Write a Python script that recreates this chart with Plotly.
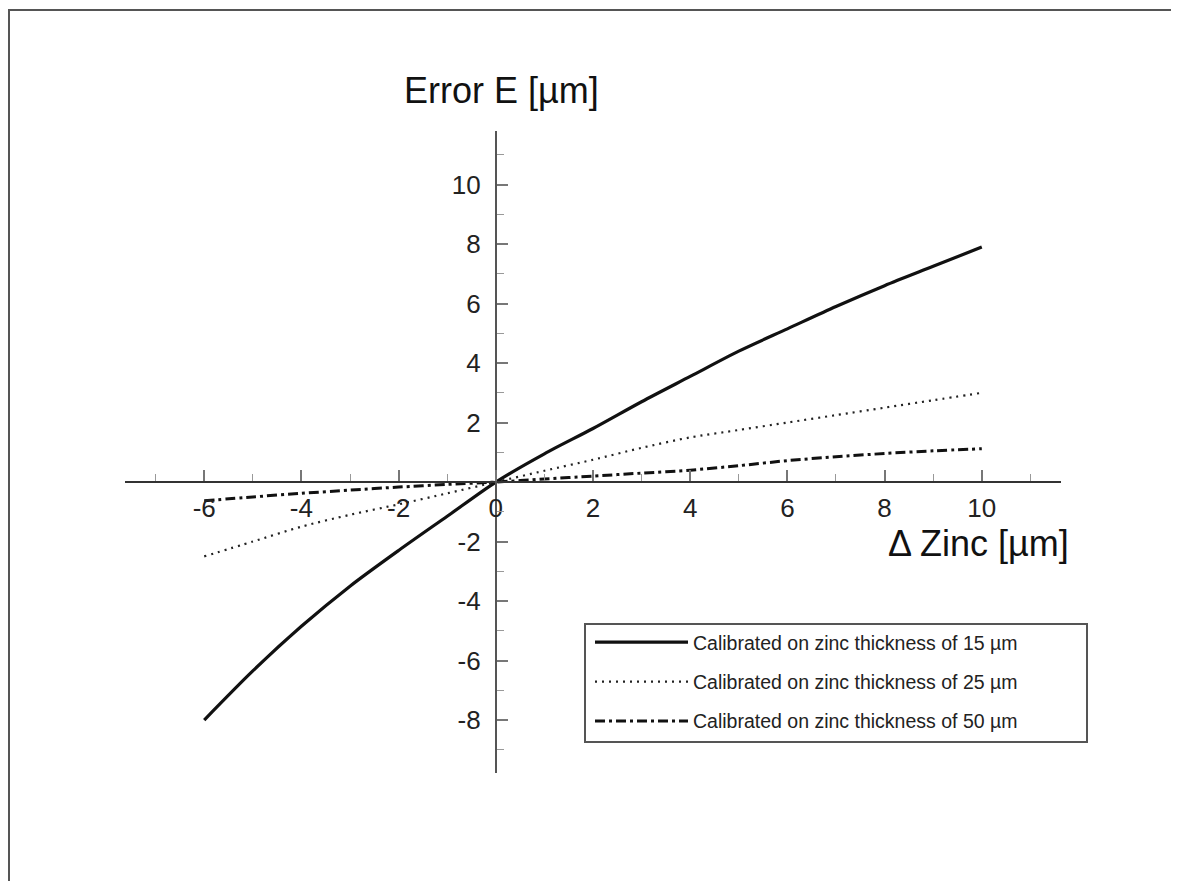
import plotly.graph_objects as go

# ---- data ----
delta_zinc = [-6, -5, -4, -3, -2, -1, 0, 1, 2, 3, 4, 5, 6, 7, 8, 9, 10]
err_15 = [-8.0, -6.35, -4.85, -3.5, -2.3, -1.15, 0, 0.95, 1.8, 2.7, 3.55, 4.4, 5.15, 5.9, 6.6, 7.25, 7.9]
err_25 = [-2.5, -2.0, -1.5, -1.1, -0.75, -0.38, 0, 0.38, 0.75, 1.15, 1.5, 1.75, 2.0, 2.25, 2.5, 2.75, 3.0]
err_50 = [-0.63, -0.5, -0.38, -0.27, -0.17, -0.08, 0, 0.1, 0.2, 0.3, 0.4, 0.55, 0.72, 0.85, 0.96, 1.05, 1.12]

series_names = [
    "Calibrated on zinc thickness of 15 µm",
    "Calibrated on zinc thickness of 25 µm",
    "Calibrated on zinc thickness of 50 µm",
]
x_major = [-6, -4, -2, 0, 2, 4, 6, 8, 10]
x_minor = [-7, -5, -3, -1, 1, 3, 5, 7, 9, 11]
y_major = [-8, -6, -4, -2, 2, 4, 6, 8, 10]
y_minor = [-9, -7, -5, -3, -1, 1, 3, 5, 7, 9, 11]

X_RANGE = [-7.63, 11.63]
Y_RANGE = [-9.78, 11.8]

OFF = 8  # page body margin
W, H = 1179 - OFF, 881 - OFF
# plot area in page pixels: x 125..1061, y 131..773
PL, PR, PT, PB = 125, 1061, 131, 773
ML, MT = PL - OFF, PT - OFF
MR, MB = W - (PR - OFF), H - (PB - OFF)
PW = PR - PL
PH = PB - PT


def px(xp):
    return (xp - PL) / PW


def py(yp):
    return (PB - yp) / PH


FONT = "Liberation Sans, Arial, sans-serif"

fig = go.Figure()
styles = [
    dict(color="#111111", width=3.2, dash="solid"),
    dict(color="#222222", width=2.2, dash="2px,5px"),
    dict(color="#111111", width=3, dash="10px,4px,3px,4px"),
]
for i, (name, ys) in enumerate(zip(series_names, [err_15, err_25, err_50])):
    fig.add_trace(go.Scatter(
        x=delta_zinc, y=ys, mode="lines", name=name,
        line=dict(shape="spline", smoothing=0.8, **styles[i]),
        legendgroup=f"g{i}",
    ))

x0_pos = (0 - Y_RANGE[0]) / (Y_RANGE[1] - Y_RANGE[0])
y0_pos = (0 - X_RANGE[0]) / (X_RANGE[1] - X_RANGE[0])

fig.update_layout(
    width=W, height=H,
    margin=dict(l=ML, r=MR, t=MT, b=MB),
    paper_bgcolor="white", plot_bgcolor="white",
    font=dict(family=FONT, color="#222222"),
    xaxis=dict(
        range=X_RANGE, anchor="free", position=x0_pos,
        showgrid=False, zeroline=False,
        showline=True, linecolor="#333333", linewidth=2,
        tickmode="array", tickvals=x_major, ticktext=[str(v) for v in x_major],
        ticks="inside", ticklen=11, tickwidth=1.5, tickcolor="#777777",
        minor=dict(tickmode="array", tickvals=x_minor, ticks="inside", ticklen=7,
                   tickwidth=1, tickcolor="#999999"),
        tickfont=dict(size=26, color="#222222"),
        ticklabelstandoff=3,
    ),
    yaxis=dict(
        range=Y_RANGE, anchor="free", position=y0_pos,
        showgrid=False, zeroline=False,
        showline=True, linecolor="#555555", linewidth=2,
        tickmode="array", tickvals=y_major, ticktext=[str(v) for v in y_major],
        ticks="inside", ticklen=11, tickwidth=1.5, tickcolor="#777777",
        minor=dict(tickmode="array", tickvals=y_minor, ticks="inside", ticklen=7,
                   tickwidth=1, tickcolor="#999999"),
        tickfont=dict(size=26, color="#222222"),
        ticklabelstandoff=9,
    ),
    legend=dict(
        x=px(590), y=py(623), xanchor="left", yanchor="top",
        bgcolor="rgba(0,0,0,0)", borderwidth=0,
        font=dict(size=19.5, color="#222222", family=FONT),
        itemwidth=93, tracegroupgap=11,
    ),
    showlegend=True,
)

# legend box
fig.add_shape(type="rect", xref="paper", yref="paper",
              x0=px(585), x1=px(1087), y0=py(742), y1=py(624),
              line=dict(color="#555555", width=2), fillcolor="rgba(0,0,0,0)", layer="below")
# outer frame of the figure
fig.add_shape(type="rect", xref="paper", yref="paper",
              x0=px(9), x1=px(1176), y0=py(900), y1=py(10),
              line=dict(color="#555555", width=2), fillcolor="rgba(0,0,0,0)", layer="below")

fig.add_annotation(text="Error E [µm]", xref="paper", yref="paper",
                   x=px(501), y=py(90), xanchor="center", yanchor="middle",
                   showarrow=False, font=dict(size=36, color="#111111", family=FONT))
fig.add_annotation(text="Δ Zinc [µm]", xref="paper", yref="paper",
                   x=px(978), y=py(543), xanchor="center", yanchor="middle",
                   showarrow=False, font=dict(size=36, color="#111111", family=FONT))

fig.write_html("out.html")
